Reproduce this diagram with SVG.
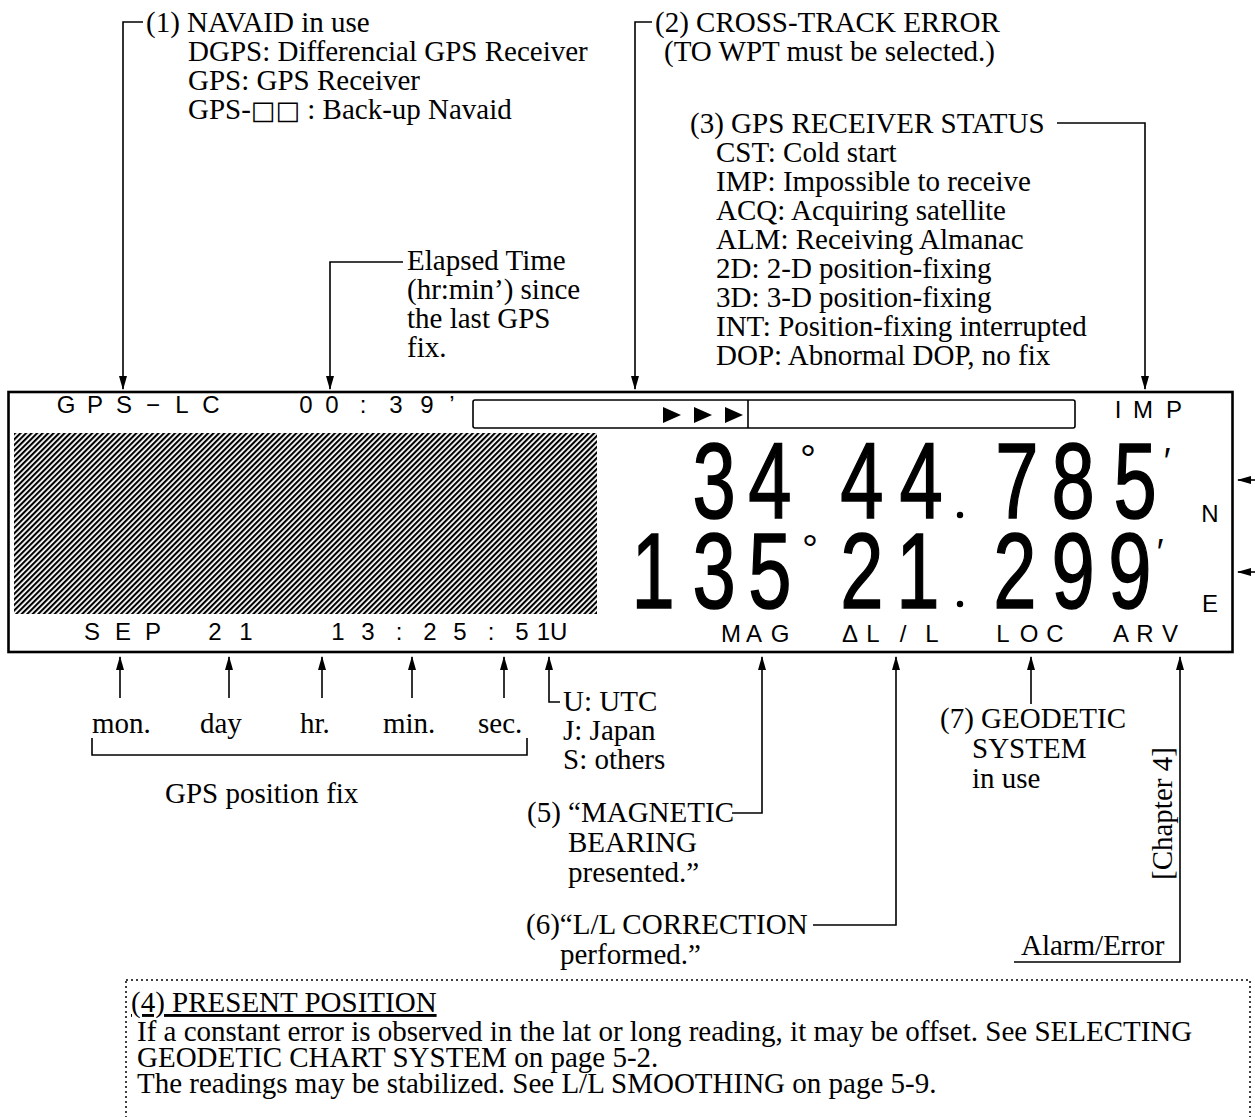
<svg xmlns="http://www.w3.org/2000/svg" width="1255" height="1117" viewBox="0 0 1255 1117">
<defs>
<style>
.t{font-family:"Liberation Serif","Times New Roman",serif;font-size:29px;fill:#000}
.lcd{font-family:"Liberation Sans",Arial,sans-serif;font-size:24px;fill:#000;text-anchor:middle}
.big{font-family:"Liberation Sans",Arial,sans-serif;font-size:108px;fill:#000;stroke:#000;stroke-width:1.6;text-anchor:middle}
.sym{font-family:"Liberation Sans","DejaVu Sans",sans-serif;font-size:40px;fill:#000;text-anchor:middle}
.pr{font-family:"Liberation Sans","DejaVu Sans",sans-serif;font-size:36px;fill:#000;text-anchor:middle}
.sq{font-family:"DejaVu Sans",sans-serif;font-size:26px}
.ln{fill:none;stroke:#000;stroke-width:1.6}
.arr{marker-end:url(#ah)}
</style>
<marker id="ah" markerUnits="userSpaceOnUse" markerWidth="14" markerHeight="8" refX="13" refY="4" orient="auto">
<path d="M0,0 L14,4 L0,8 z" fill="#000"/>
</marker>
<pattern id="hatch" patternUnits="userSpaceOnUse" width="3.9" height="4" patternTransform="rotate(45)">
<rect width="2.1" height="4" fill="#000"/>
</pattern>
</defs>
<rect width="1255" height="1117" fill="#fff"/>

<g id="connectors">
<path class="ln arr" d="M143,22 H123 V389"/>
<path class="ln arr" d="M403,262 H330 V389"/>
<path class="ln arr" d="M652,22 H635 V389"/>
<path class="ln arr" d="M1057,123 H1145 V389"/>
<path class="ln arr" d="M120,698 V657"/>
<path class="ln arr" d="M229,698 V657"/>
<path class="ln arr" d="M322,698 V657"/>
<path class="ln arr" d="M412,698 V657"/>
<path class="ln arr" d="M504,698 V657"/>
<path class="ln arr" d="M560,702 H549 V657"/>
<path class="ln" d="M92,738 V755 H527 V738"/>
<path class="ln arr" d="M732,813 H762 V657"/>
<path class="ln arr" d="M813,925 H896 V657"/>
<path class="ln arr" d="M1031,704 V657"/>
<path class="ln arr" d="M1014,962 H1180 V657"/>
<path class="ln arr" d="M1255,480 H1238"/>
<path class="ln arr" d="M1255,572 H1238"/>
</g>

<g id="navaid">
<text class="t" x="146" y="32">(1) NAVAID in use</text>
<text class="t" x="188" y="61">DGPS: Differencial GPS Receiver</text>
<text class="t" x="188" y="90">GPS: GPS Receiver</text>
<text class="t" x="188" y="119">GPS-<tspan class="sq">□□</tspan> : Back-up Navaid</text>
</g>

<g id="elapsed">
<text class="t" x="407" y="270">Elapsed Time</text>
<text class="t" x="407" y="299">(hr:min’) since</text>
<text class="t" x="407" y="328">the last GPS</text>
<text class="t" x="407" y="357">fix.</text>
</g>

<g id="xte">
<text class="t" x="655" y="32">(2) CROSS-TRACK ERROR</text>
<text class="t" x="664" y="61">(TO WPT must be selected.)</text>
</g>

<g id="status">
<text class="t" x="690" y="133">(3) GPS RECEIVER STATUS</text>
<text class="t" x="716" y="162">CST: Cold start</text>
<text class="t" x="716" y="191">IMP: Impossible to receive</text>
<text class="t" x="716" y="220">ACQ: Acquiring satellite</text>
<text class="t" x="716" y="249">ALM: Receiving Almanac</text>
<text class="t" x="716" y="278">2D: 2-D position-fixing</text>
<text class="t" x="716" y="307">3D: 3-D position-fixing</text>
<text class="t" x="716" y="336">INT: Position-fixing interrupted</text>
<text class="t" x="716" y="365">DOP: Abnormal DOP, no fix</text>
</g>

<g id="display">
<rect x="8.5" y="392" width="1224" height="260" fill="none" stroke="#000" stroke-width="2.6"/>
<text class="lcd" x="66 95 124 153 182 211" y="413">GPS−LC</text>
<text class="lcd" x="306 332 363 396 427 452" y="413">00:39’</text>
<rect x="473" y="400" width="602" height="28" rx="2" fill="none" stroke="#000" stroke-width="1.6"/>
<line x1="748" y1="400" x2="748" y2="428" stroke="#000" stroke-width="1.6"/>
<polygon points="663,407 681,415 663,423"/>
<polygon points="694,407 712,415 694,423"/>
<polygon points="725,407 743,415 725,423"/>
<text class="lcd" x="1118 1143 1174" y="418">IMP</text>
<rect x="14" y="433" width="583" height="181" fill="url(#hatch)"/>
<text class="big" transform="scale(0.72,1)"><tspan x="991.7 1069.4" y="518">34</tspan><tspan x="1197.2 1279.2" y="518">44</tspan><tspan x="1412.5 1490.3 1576.4" y="518">785</tspan></text>
<text class="big" transform="scale(0.72,1)"><tspan x="907 991.7 1069.4" y="608">135</tspan><tspan x="1197.2 1275" y="608">21</tspan><tspan x="1409.7 1490.3 1569.4" y="608">299</tspan></text>
<text class="sym" x="808" y="473">°</text>
<text class="sym" x="810" y="563">°</text>
<circle cx="960" cy="515" r="3.2"/>
<circle cx="960" cy="604" r="3.2"/>
<text class="pr" x="1167" y="474">′</text>
<text class="pr" x="1160" y="565">′</text>
<text class="lcd" x="1210" y="522">N</text>
<text class="lcd" x="1210" y="612">E</text>
<text class="lcd" x="92 123 153 215 246 307 338 368 399 430 460 491 522 552" y="640">SEP21 13:25:51U</text>
<text class="lcd" x="731 754 780 850 873 903 932 1003 1029 1055 1121 1145 1170" y="642">MAGΔL/LLOCARV</text>
</g>

<g id="fix-labels">
<text class="t" x="92" y="733">mon.</text>
<text class="t" x="200" y="733">day</text>
<text class="t" x="300" y="733">hr.</text>
<text class="t" x="383" y="733">min.</text>
<text class="t" x="478" y="733">sec.</text>
<text class="t" x="165" y="803">GPS position fix</text>
</g>

<g id="timezone">
<text class="t" x="563" y="711">U: UTC</text>
<text class="t" x="563" y="740">J: Japan</text>
<text class="t" x="563" y="769">S: others</text>
</g>

<g id="mag">
<text class="t" x="527" y="822">(5) “MAGNETIC</text>
<text class="t" x="568" y="852">BEARING</text>
<text class="t" x="568" y="882">presented.”</text>
</g>

<g id="llcorr">
<text class="t" x="526" y="934">(6)“L/L CORRECTION</text>
<text class="t" x="560" y="964">performed.”</text>
</g>

<g id="geodetic">
<text class="t" x="940" y="728">(7) GEODETIC</text>
<text class="t" x="972" y="758">SYSTEM</text>
<text class="t" x="972" y="788">in use</text>
</g>

<g id="alarm">
<text class="t" transform="translate(1172,880) rotate(-90)">[Chapter 4]</text>
<text class="t" x="1021" y="955">Alarm/Error</text>
</g>

<g id="present-pos">
<rect x="126" y="980" width="1124" height="200" fill="none" stroke="#000" stroke-width="1.5" stroke-dasharray="2 3"/>
<text class="t" x="131" y="1012" text-decoration="underline">(4) PRESENT POSITION</text>
<text class="t" x="137" y="1041">If a constant error is observed in the lat or long reading, it may be offset. See SELECTING</text>
<text class="t" x="137" y="1067">GEODETIC CHART SYSTEM on page 5-2.</text>
<text class="t" x="137" y="1093">The readings may be stabilized. See L/L SMOOTHING on page 5-9.</text>
</g>
</svg>
